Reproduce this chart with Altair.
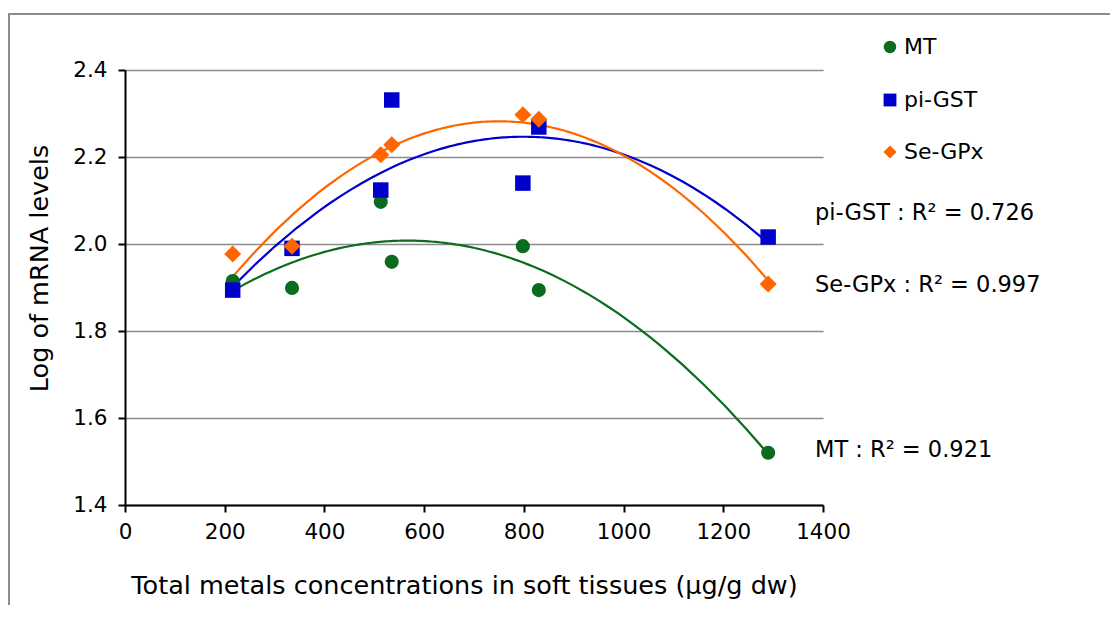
import altair as alt
import pandas as pd

# ---- data ----
metals = [216, 335, 513, 535, 798, 830, 1290]
mt = [1.915, 1.899, 2.097, 1.959, 1.995, 1.894, 1.520]
pigst = [1.894, 1.990, 2.124, 2.331, 2.140, 2.269, 2.016]
segpx = [1.977, 1.995, 2.205, 2.228, 2.297, 2.287, 1.908]

series_names = ["MT", "pi-GST", "Se-GPx"]
series_colors = ["#0b6b1e", "#0000cc", "#ff6600"]
series_shapes = ["circle", "square", "diamond"]
series_sizes = [200, 240, 290]

y_ticks = [1.4, 1.6, 1.8, 2.0, 2.2, 2.4]
x_ticks = [0, 200, 400, 600, 800, 1000, 1200, 1400]

r2_labels = ["pi-GST : R² = 0.726", "Se-GPx : R² = 0.997", "MT : R² = 0.921"]

# layout (pixels, relative to the plot area)
legend_x, legend_label_x = 765, 779
legend_y = [-23, 30, 82]
legend_sizes = [155, 165, 175]
r2_x = 690
r2_y = [143, 215, 380]

rows = []
for name, vals in zip(series_names, [mt, pigst, segpx]):
    for xv, yv in zip(metals, vals):
        rows.append({"metal": xv, "level": yv, "series": name})
df = pd.DataFrame(rows)

FONT = "DejaVu Sans"

xscale = alt.Scale(domain=[0, 1400], nice=False, zero=False)
yscale = alt.Scale(domain=[1.4, 2.4], nice=False, zero=False)
cscale = alt.Scale(domain=series_names, range=series_colors)
sscale = alt.Scale(domain=series_names, range=series_shapes)

xaxis = alt.Axis(
    values=x_ticks, format="d", grid=False, labelFontSize=21.5, labelPadding=9,
    labelFlush=False,
    title="Total metals concentrations in soft tissues (µg/g dw)",
    titleFontSize=25.5, titleFontWeight="normal", titleX=339, titleY=80,
    titleBaseline="middle", titleAlign="center",
)
yaxis = alt.Axis(
    values=y_ticks, format=".1f", grid=True, labelFontSize=21.5, labelPadding=11,
    labelFlush=False,
    title="Log of mRNA levels", titleFontSize=25.5, titleFontWeight="normal",
    titleX=-86, titleY=198, titleBaseline="middle", titleAlign="center",
)

base = alt.Chart(df)

frame = alt.Chart(alt.Data(values=[{}])).mark_rect(
    fill=None, stroke="#8c8c8c", strokeWidth=2, clip=False
).encode(
    x=alt.value(-116), x2=alt.value(1100), y=alt.value(-56), y2=alt.value(700)
)

lines = base.transform_regression(
    "metal", "level", method="poly", order=2, groupby=["series"]
).mark_line(strokeWidth=2.2).encode(
    x=alt.X("metal:Q", scale=xscale, axis=xaxis),
    y=alt.Y("level:Q", scale=yscale, axis=yaxis),
    stroke=alt.Stroke("series:N", scale=cscale, legend=None),
    detail="series:N",
)

layers = [frame, lines]
for name, sz in zip(series_names, series_sizes):
    layers.append(
        base.transform_filter(alt.datum.series == name)
        .mark_point(filled=True, opacity=1, strokeWidth=0, size=sz)
        .encode(
            x=alt.X("metal:Q", scale=xscale, axis=xaxis),
            y=alt.Y("level:Q", scale=yscale, axis=yaxis),
            color=alt.Color("series:N", scale=cscale, legend=None),
            shape=alt.Shape("series:N", scale=sscale, legend=None),
        )
    )

# legend (drawn as marks, using the same color/shape scales)
for name, ly, ls in zip(series_names, legend_y, legend_sizes):
    one = alt.Chart(alt.Data(values=[{"series": name}]))
    layers.append(
        one.mark_point(filled=True, opacity=1, strokeWidth=0, size=ls, clip=False).encode(
            x=alt.value(legend_x), y=alt.value(ly),
            color=alt.Color("series:N", scale=cscale, legend=None),
            shape=alt.Shape("series:N", scale=sscale, legend=None),
        )
    )
    layers.append(
        one.mark_text(align="left", baseline="middle", fontSize=22, font=FONT,
                      color="black", clip=False).encode(
            x=alt.value(legend_label_x), y=alt.value(ly), text="series:N",
        )
    )

# R² annotations
for lab, ry in zip(r2_labels, r2_y):
    layers.append(
        alt.Chart(alt.Data(values=[{"label": lab}])).mark_text(
            align="left", baseline="middle", fontSize=22.5, font=FONT,
            color="black", clip=False
        ).encode(x=alt.value(r2_x), y=alt.value(ry), text="label:N")
    )

chart = alt.layer(*layers).properties(
    width=698, height=435,
    autosize=alt.AutoSizeParams(type="none"),
    padding={"left": 117, "top": 62, "right": 287, "bottom": 100},
).configure_view(stroke=None).configure_axis(
    labelFont=FONT, titleFont=FONT, labelColor="black", titleColor="black",
    domainColor="black", domainWidth=2, tickColor="black", tickWidth=2, tickSize=7,
    gridColor="#8c8c8c", gridWidth=1.6,
).configure_axisX(labelAngle=0)

chart.save("out.html", embed_options={"renderer": "svg", "actions": False})
